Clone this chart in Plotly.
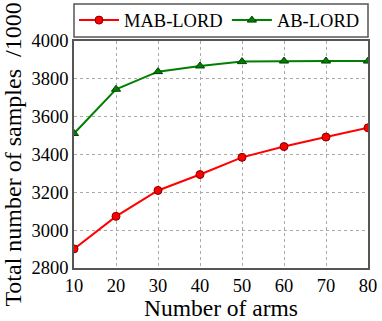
import plotly.graph_objects as go

arms = [10, 20, 30, 40, 50, 60, 70, 80]
mab_lord = [2901, 3073, 3210, 3294, 3385, 3442, 3492, 3541]
ab_lord = [3511, 3745, 3838, 3868, 3891, 3894, 3894, 3894]

serif = "Liberation Serif, Times New Roman, serif"

fig = go.Figure()

fig.add_trace(go.Scatter(
    x=arms, y=mab_lord, name="MAB-LORD", mode="lines+markers",
    line=dict(color="#ff0000", width=2),
    marker=dict(symbol="circle", size=8, color="#ff0000",
                line=dict(color="#800000", width=1)),
    legend="legend", showlegend=True,
))
fig.add_trace(go.Scatter(
    x=arms, y=ab_lord, name="AB-LORD", mode="lines+markers",
    line=dict(color="#007f00", width=2),
    marker=dict(symbol="triangle-up", size=8, color="#007f00",
                line=dict(color="#004000", width=1)),
    legend="legend2", showlegend=True,
))

leg = dict(orientation="h", yanchor="middle", y=1.09, xanchor="left",
           bgcolor="rgba(0,0,0,0)", borderwidth=0, font=dict(size=18.5),
           itemwidth=40, visible=True)

fig.update_layout(
    width=382, height=321,
    showlegend=True,
    margin=dict(l=74, r=14, t=41, b=53, autoexpand=False),
    plot_bgcolor="white", paper_bgcolor="white",
    font=dict(family=serif, size=18.5, color="black"),
    legend=dict(leg, x=0.0),
    legend2=dict(leg, x=0.52),
    shapes=[dict(type="rect", xref="paper", yref="paper",
                 x0=0, x1=1, y0=1.018, y1=1.163,
                 line=dict(color="#555555", width=1.5), fillcolor="rgba(0,0,0,0)")],
)
fig.update_xaxes(
    range=[10, 80], dtick=10, showline=True, linecolor="#555555", linewidth=1.5,
    mirror=True, showgrid=True, gridcolor="#aaaaaa", griddash="dot", gridwidth=1,
    zeroline=False, ticks="", automargin=False,
    title=dict(text="Number of arms", font=dict(size=23.5), standoff=2),
)
fig.update_yaxes(
    range=[2800, 4000], dtick=200, showline=True, linecolor="#555555", linewidth=1.5,
    mirror=True, showgrid=True, gridcolor="#aaaaaa", griddash="dot", gridwidth=1,
    zeroline=False, ticks="", automargin=False,
    title=dict(text="Total number of samples\u00a0\u00a0/1000", font=dict(size=24), standoff=3),
)

fig.write_html("out.html", config={"displayModeBar": False},
               post_script="document.body.style.margin='0';")
